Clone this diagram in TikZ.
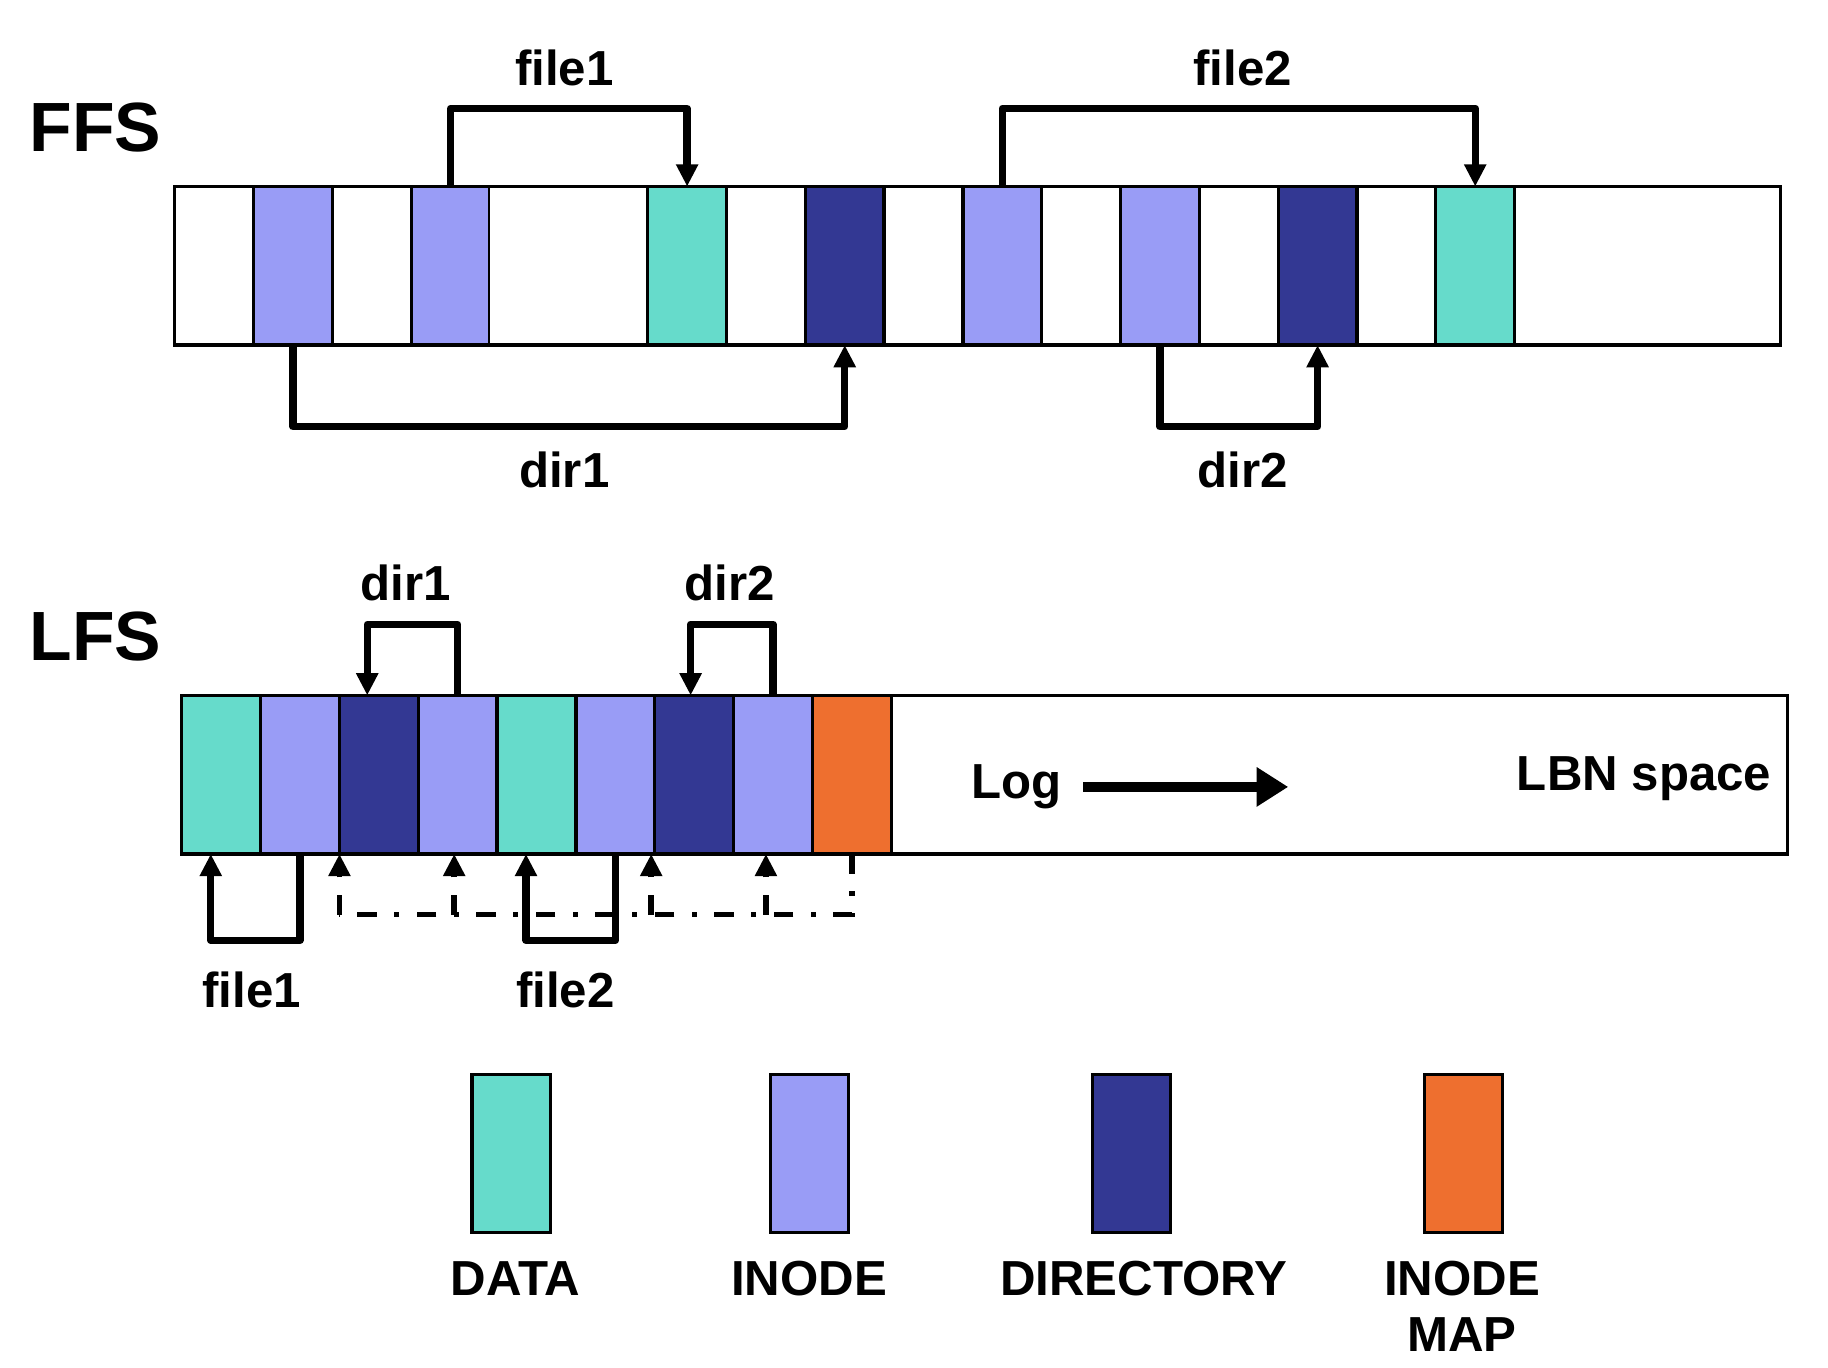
\documentclass[tikz,border=0pt]{standalone}
\usepackage{fontspec}
\setmainfont{Liberation Sans}
\usetikzlibrary{arrows.meta,calc}
\definecolor{datac}{HTML}{66DBCB}
\definecolor{inodec}{HTML}{999CF6}
\definecolor{dirc}{HTML}{333893}
\definecolor{imapc}{HTML}{EE6F2F}
\begin{document}
\begin{tikzpicture}[x=0.01cm,y=-0.01cm,
  cell/.style={line width=0.8pt,minimum width=0.676cm,minimum height=1.36cm,inner sep=0,outer sep=0},
  bar/.style={draw=black,line width=0.8pt,inner sep=0,outer sep=0,minimum height=1.36cm},
  lbl/.style={font=\fontsize{12}{14}\selectfont\bfseries,inner sep=0},
  big/.style={font=\fontsize{17}{20}\selectfont\bfseries,inner sep=0},
  conn/.style={line width=1.8pt,line join=round,-{Triangle[length=0.19cm,width=0.18cm]}},
  dd/.style={line width=1.4pt,dash pattern=on 0.17cm off 0.15cm on 0.04cm off 0.15cm},
  ddarr/.style={dd,-{Triangle[length=0.19cm,width=0.18cm]}},
  logarr/.style={line width=2.4pt,-{Triangle[length=0.27cm,width=0.32cm]}}
]
\useasboundingbox (0,0) rectangle (1568,1173);

% ---------------- FFS ----------------
\node[big] (ffslbl) at (82,109) {FFS};
\foreach \c/\d [count=\i from 0] in {white/black,inodec/black,white/black,inodec/black,white/none,white/none,datac/black,white/black,dirc/black,white/black,inodec/black,white/black,inodec/black,white/black,dirc/black,white/black,datac/black}
  \node[cell,fill=\c,draw=\d] (f\i) at ({150+67.6*(\i+0.5)},228) {};
\node[bar,minimum width=13.77cm] (ffs) at (838.5,228) {};

\draw[conn] (f3.north) -- ++(0,-67) -| (f6.north);
\draw[conn] (f10.north) -- ++(0,-67) -| (f16.north);
\draw[conn] (f1.south) -- ++(0,70) -| (f8.south);
\draw[conn] (f12.south) -- ++(0,70) -| (f14.south);

\node[lbl] (ffile1) at (484,58) {file1};
\node[lbl] (ffile2) at (1066,58) {file2};
\node[lbl] (fdir1) at (484,403) {dir1};
\node[lbl] (fdir2) at (1066,403) {dir2};

% ---------------- LFS ----------------
\node[big] (lfslbl) at (82,546) {LFS};
\foreach \c [count=\i from 0] in {datac,inodec,dirc,inodec,datac,inodec,dirc,inodec,imapc}
  \node[cell,fill=\c,draw=black] (l\i) at ({156+67.6*(\i+0.5)},664.5) {};
\node[bar,minimum width=13.77cm] (lfs) at (844.5,664.5) {};

\draw[conn] (l3.north) -- ++(0,-61) -| ($(l2.north)+(-10,0)$);
\draw[conn] (l7.north) -- ++(0,-61) -| ($(l6.north)+(-3,0)$);
\draw[conn] (l1.south) -- ++(0,74) -| ($(l0.south)+(-9,0)$);
\draw[conn] (l5.south) -- ++(0,74) -| ($(l4.south)+(-9,0)$);

\coordinate (ddbase) at ($(l8.south)+(0,52)$);
\draw[dd] (l8.south) -- (ddbase) -- (ddbase -| l2.south west);
\draw[ddarr] (ddbase -| l2.south west) -- (l2.south west);
\draw[ddarr] ($(ddbase -| l3.south)+(-3,0)$) -- ($(l3.south)+(-3,0)$);
\draw[ddarr] ($(ddbase -| l6.south west)+(-3,0)$) -- ($(l6.south west)+(-3,0)$);
\draw[ddarr] ($(ddbase -| l7.south)+(-6,0)$) -- ($(l7.south)+(-6,0)$);

\node[lbl] (ldir1) at (348,500) {dir1};
\node[lbl] (ldir2) at (626,500) {dir2};
\node[lbl] (lfile1) at (216,849) {file1};
\node[lbl] (lfile2) at (485,849) {file2};

\node[lbl] (log) at (872,675) {Log};
\coordinate (logend) at (1105,675);
\draw[logarr] ([xshift=0.18cm]log.east) -- (logend);
\node[lbl,anchor=east] (lbn) at (1520,668) {LBN space};

% ---------------- Legend ----------------
\node[cell,fill=datac,draw=black,minimum width=0.67cm,minimum height=1.35cm] (kdata) at (438.5,989.5) {};
\node[cell,fill=inodec,draw=black,minimum width=0.67cm,minimum height=1.35cm] (kinode) at (694.5,989.5) {};
\node[cell,fill=dirc,draw=black,minimum width=0.67cm,minimum height=1.35cm] (kdir) at (970.5,989.5) {};
\node[cell,fill=imapc,draw=black,minimum width=0.67cm,minimum height=1.35cm] (kimap) at (1255.5,989.5) {};
\node[lbl] (tdata) at (442,1097) {DATA};
\node[lbl] (tinode) at (694,1097) {INODE};
\node[lbl] (tdir) at (981,1097) {DIRECTORY};
\node[lbl] (timap) at (1254,1097) {INODE};
\node[lbl] (tmap) at (1254,1145) {MAP};
\end{tikzpicture}
\end{document}
